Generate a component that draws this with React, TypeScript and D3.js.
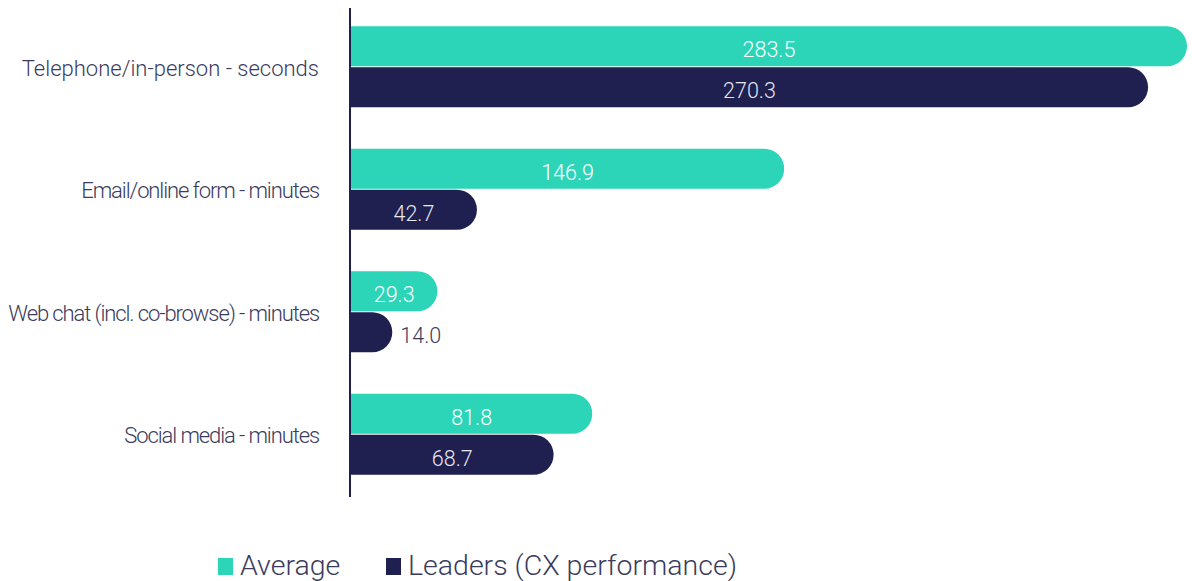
import React from "react";
import * as d3 from "d3";

const categories = [
  "Telephone/in-person - seconds",
  "Email/online form - minutes",
  "Web chat (incl. co-browse) - minutes",
  "Social media - minutes",
];
const averageValues = [283.5, 146.9, 29.3, 81.8];
const leaderValues = [270.3, 42.7, 14.0, 68.7];
const seriesNames = ["Average", "Leaders (CX performance)"];

// per-label letter spacing (style only)
const labelTracking = [0, -1.1, -1.1, -1.1];

const W = 1192;
const H = 581;
const TEAL = "#2cd5b7";
const NAVY = "#1f1f50";
const TEXT = "#3b3b5e";
const FONT = "Roboto, 'Open Sans', sans-serif";

function barPath(x0: number, x1: number, y: number, h: number) {
  const r = Math.min(h / 2, Math.max(0, x1 - x0));
  const p = d3.path();
  p.moveTo(x0, y);
  p.lineTo(x1 - r, y);
  p.arc(x1 - r, y + r, r, -Math.PI / 2, 0);
  p.lineTo(x1, y + h - r);
  p.arc(x1 - r, y + h - r, r, 0, Math.PI / 2);
  p.lineTo(x0, y + h);
  p.closePath();
  return p.toString();
}

export default function App() {
  const x = d3.scaleLinear().domain([0, 283.5]).range([351, 1187]);
  const y = d3.scaleBand<string>().domain(categories).range([5.5, 495.5]).paddingInner(0);
  const barH = 40;
  const gap = 1;
  const series = [
    { name: seriesNames[0], values: averageValues, color: TEAL, offset: -(barH + gap / 2), labelFill: "#ffffff" },
    { name: seriesNames[1], values: leaderValues, color: NAVY, offset: gap / 2, labelFill: "#e6e6ee" },
  ];
  return (
    <svg width={W} height={H} style={{ position: "absolute", left: 0, top: 0, background: "#fff" }} fontFamily={FONT}>
      {categories.map((c, i) => {
        const cy = (y(c) ?? 0) + y.bandwidth() / 2;
        return (
          <g key={c}>
            <text
              x={319}
              y={cy + 9}
              textAnchor="end"
              fontSize={22}
              fontWeight={300}
              letterSpacing={labelTracking[i]}
              fill={TEXT}
            >
              {c}
            </text>
            {series.map((s) => {
              const v = s.values[i];
              const by = cy + s.offset;
              const x1 = x(v);
              const w = x1 - x(0);
              const inside = w > 60;
              const label = v.toFixed(1);
              return (
                <g key={s.name}>
                  <path d={barPath(x(0), x1, by, barH)} fill={s.color} />
                  <text
                    x={inside ? (x(0) + x1) / 2 : x1 + 8}
                    y={by + 31}
                    textAnchor={inside ? "middle" : "start"}
                    fontSize={21.5}
                    fontWeight={300}
                    fill={inside ? s.labelFill : TEXT}
                  >
                    {label}
                  </text>
                </g>
              );
            })}
          </g>
        );
      })}
      <line x1={350} x2={350} y1={8} y2={497} stroke={NAVY} strokeWidth={2} />
      <g>
        <rect x={218} y={558} width={15} height={17} fill={TEAL} />
        <text x={240} y={575} fontSize={28.5} fontWeight={300} fill={TEXT}>
          {seriesNames[0]}
        </text>
        <rect x={386} y={558} width={15} height={17} fill={NAVY} />
        <text x={408} y={575} fontSize={28.5} fontWeight={300} fill={TEXT}>
          {seriesNames[1]}
        </text>
      </g>
    </svg>
  );
}
